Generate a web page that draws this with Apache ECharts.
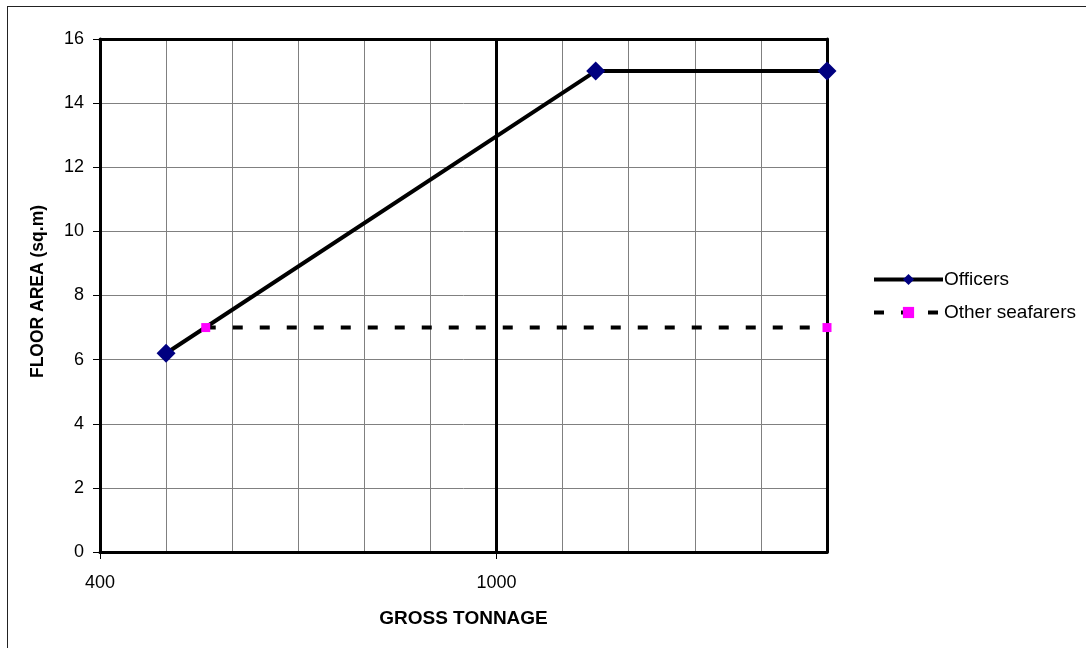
<!DOCTYPE html>
<html>
<head>
<meta charset="utf-8">
<script src="https://cdn.jsdelivr.net/npm/echarts@6/dist/echarts.min.js"></script>
<style>
html,body{margin:0;padding:0;background:#fff;}
#wrap{position:relative;width:1086px;height:648px;overflow:hidden;}
#frame{position:absolute;left:7px;top:6px;width:1200px;height:800px;border:1px solid #222;box-sizing:border-box;}
#chart{position:absolute;left:0;top:0;width:1086px;height:648px;}
</style>
</head>
<body>
<div id="wrap"><div id="frame"></div><div id="chart"></div></div>
<script>
// Data
const officersX = [500, 1150, 1500];
const officersY = [6.2, 15, 15];
const othersX = [560, 1500];
const othersY = [7, 7];
const xLabelValues = [400, 1000];
const seriesNames = ['Officers', 'Other seafarers'];
const xTitle = 'GROSS TONNAGE';
const yTitle = 'FLOOR AREA (sq.m)';

const font = 'Liberation Sans, Arial, sans-serif';
const chart = echarts.init(document.getElementById('chart'), null, {renderer: 'canvas'});

const toPairs = (xs, ys) => xs.map((x, i) => [x, ys[i]]);

chart.setOption({
  animation: false,
  backgroundColor: 'transparent',
  grid: {left: 100, top: 39, width: 727, height: 513, containLabel: false},
  legend: {
    orient: 'vertical',
    left: 872,
    top: 270,
    padding: 0,
    itemWidth: 69,
    itemHeight: 14,
    itemGap: 14,
    data: [
      {name: seriesNames[0], lineStyle: {width: 4}},
      {name: seriesNames[1], lineStyle: {width: 4}}
    ],
    textStyle: {fontFamily: font, fontSize: 19, color: '#000', padding: [0, 0, 0, -4]}
  },
  xAxis: [{
    type: 'value', min: 400, max: 1500, interval: 600,
    name: xTitle, nameLocation: 'middle', nameGap: 57,
    nameTextStyle: {fontFamily: font, fontSize: 19, fontWeight: 'bold', color: '#000'},
    axisLine: {show: true, onZero: false, lineStyle: {color: '#000', width: 3}},
    axisTick: {show: true, length: 7, lineStyle: {color: '#000', width: 1}, customValues: xLabelValues},
    axisLabel: {fontFamily: font, fontSize: 18, color: '#000', margin: 22, customValues: xLabelValues,
      formatter: v => String(v)},
    splitLine: {show: false}
  }, {
    type: 'value', min: 400, max: 1500, position: 'top', z: 5,
    axisLine: {show: true, onZero: false, lineStyle: {color: '#000', width: 3}},
    axisTick: {show: false}, axisLabel: {show: false}, splitLine: {show: false}
  }, {
    type: 'value', min: 400, max: 1500, interval: 100, position: 'bottom', z: 0,
    axisLine: {show: false}, axisTick: {show: false}, axisLabel: {show: false},
    splitLine: {show: true, lineStyle: {color: '#808080', width: 1}}
  }],
  yAxis: [{
    type: 'value', min: 0, max: 16, interval: 2,
    name: yTitle, nameLocation: 'middle', nameGap: 53, nameRotate: 90,
    nameTextStyle: {fontFamily: font, fontSize: 17.5, fontWeight: 'bold', color: '#000', padding: [0, 0, 0, 8]},
    axisLine: {show: true, onZero: false, lineStyle: {color: '#000', width: 3}},
    axisTick: {show: true, length: 7, lineStyle: {color: '#000', width: 1}},
    axisLabel: {fontFamily: font, fontSize: 18, color: '#000', margin: 16},
    splitLine: {show: true, lineStyle: {color: '#808080', width: 1}}
  }, {
    type: 'value', min: 0, max: 16, position: 'right', z: 5,
    axisLine: {show: true, onZero: false, lineStyle: {color: '#000', width: 3}},
    axisTick: {show: false}, axisLabel: {show: false}, splitLine: {show: false}
  }],
  series: [{
    name: '__major', type: 'line', data: [], z: 1,
    markLine: {
      silent: true, symbol: 'none', label: {show: false},
      lineStyle: {color: '#000', width: 3, type: 'solid'},
      data: [{xAxis: 1000}]
    }
  }, {
    name: seriesNames[0], type: 'line', z: 6, clip: false,
    data: toPairs(officersX, officersY),
    symbol: 'diamond', symbolSize: 19,
    itemStyle: {color: '#000080'},
    lineStyle: {color: '#000', width: 4}
  }, {
    name: seriesNames[1], type: 'line', z: 7, clip: false,
    data: toPairs(othersX, othersY),
    symbol: 'rect', symbolSize: 9,
    itemStyle: {color: '#FF00FF'},
    lineStyle: {color: '#000', width: 4, type: [10, 17], cap: 'butt'}
  }]
});
</script>
</body>
</html>
